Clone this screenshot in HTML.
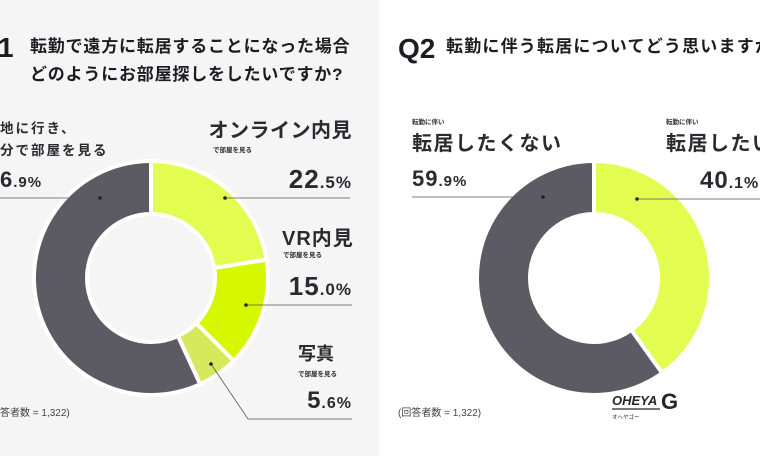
<!DOCTYPE html>
<html><head><meta charset="utf-8"><style>
html,body{margin:0;padding:0;width:760px;height:456px;overflow:hidden;background:#fff}
svg{display:block;font-family:"Liberation Sans","Noto Sans CJK JP",sans-serif}
</style></head><body>
<svg id="c" width="760" height="456" viewBox="0 0 760 456">
<rect x="0" y="0" width="379" height="456" fill="#f5f5f5"/>
<rect x="379" y="0" width="381" height="456" fill="#ffffff"/>
<g fill="#1c1c22" font-weight="bold">
<text x="-2" y="57" font-size="28">1</text>
<text x="30" y="52" font-size="17" letter-spacing="0.8">転勤で遠方に転居することになった場合</text>
<text x="30" y="80" font-size="17" letter-spacing="0.8">どのようにお部屋探しをしたいですか?</text>
<text x="398" y="58" font-size="28">Q2</text>
<text x="446" y="52" font-size="17" letter-spacing="1.2">転勤に伴う転居についてどう思いますか</text>
</g>
<g id="left"></g><g id="right"></g>
<g fill="#2a2a30" font-weight="bold">
<text x="0" y="133" font-size="13.5" letter-spacing="2">地に行き、</text>
<text x="0" y="155" font-size="13.5" letter-spacing="2">分で部屋を見る</text>
<text x="0" y="187" font-size="22" letter-spacing="1">6<tspan font-size="15">.9%</tspan></text>
<text x="352" y="137" font-size="20" text-anchor="end" letter-spacing="0.5">オンライン内見</text>
<text x="213" y="152" font-size="6.5">で部屋を見る</text>
<text x="352" y="188" font-size="26" text-anchor="end" letter-spacing="1">22<tspan font-size="17">.5%</tspan></text>
<text x="282" y="245" font-size="20" letter-spacing="1">VR内見</text>
<text x="283" y="257" font-size="6.5">で部屋を見る</text>
<text x="352" y="295" font-size="26" text-anchor="end" letter-spacing="1">15<tspan font-size="17">.0%</tspan></text>
<text x="298" y="360" font-size="18">写真</text>
<text x="298" y="376" font-size="6.5">で部屋を見る</text>
<text x="352" y="408" font-size="24" text-anchor="end" letter-spacing="1">5<tspan font-size="16">.6%</tspan></text>
<text x="412" y="124" font-size="6.5">転勤に伴い</text>
<text x="412" y="150" font-size="20" letter-spacing="1.5">転居したくない</text>
<text x="412" y="186" font-size="22" letter-spacing="1">59<tspan font-size="15">.9%</tspan></text>
<text x="666" y="124" font-size="6.5">転勤に伴い</text>
<text x="666" y="150" font-size="20" letter-spacing="1.5">転居したい</text>
<text x="700" y="188" font-size="24" letter-spacing="1">40<tspan font-size="16">.1%</tspan></text>
</g>
<g stroke="#555" stroke-width="0.8" fill="none">
<line x1="0" y1="198" x2="100" y2="198"/>
<line x1="225" y1="198" x2="350" y2="198"/>
<line x1="246" y1="305" x2="352" y2="305"/>
<polyline points="211,364 248,419 352,419"/>
<line x1="412" y1="197" x2="543" y2="197"/>
<line x1="637" y1="199" x2="760" y2="199"/>
</g>
<g fill="#222">
<circle cx="100" cy="198" r="1.8"/><circle cx="225" cy="198" r="1.8"/><circle cx="246" cy="305" r="1.8"/><circle cx="211" cy="364" r="1.8"/><circle cx="543" cy="197" r="1.8"/><circle cx="637" cy="199" r="1.8"/>
</g>
<text x="0" y="416" font-size="10" fill="#444">答者数 = 1,322)</text>
<text x="398" y="416" font-size="10" fill="#444">(回答者数 = 1,322)</text>
<g>
<text x="612" y="405" font-size="13" font-weight="bold" font-style="italic" fill="#2a2424">OHEYA</text>
<line x1="612" y1="409" x2="660" y2="409" stroke="#2a2424" stroke-width="1.2"/>
<text x="661" y="409" font-size="22" font-weight="bold" fill="#2a2424">G</text>
<text x="612" y="419" font-size="5.5" fill="#2a2424">オヘヤゴー</text>
</g>
</svg>
<script>
var q1Categories=["オンライン内見","VR内見","写真","現地に行き自分で部屋を見る"];
var q1Values=[22.5,15.0,5.6,56.9];
var q1Colors=["#e2fc50","#d5f700","#d6e85c","#5c5a63"];
var q2Categories=["転居したい","転居したくない"];
var q2Values=[40.1,59.9];
var q2Colors=["#e2fc50","#5c5a63"];
function donut(gid,cx,cy,R,r,vals,cols,cats){
  var g=document.getElementById(gid),tot=vals.reduce(function(a,b){return a+b},0),a0=0;
  function pt(rad,a){return [cx+rad*Math.sin(a),cy-rad*Math.cos(a)];}
  vals.forEach(function(v,i){
    var a1=a0+v/tot*2*Math.PI,lg=(a1-a0)>Math.PI?1:0;
    var p1=pt(R,a0),p2=pt(R,a1),p3=pt(r,a1),p4=pt(r,a0);
    var p=document.createElementNS("http://www.w3.org/2000/svg","path");
    p.setAttribute("d","M"+p1+"A"+R+","+R+" 0 "+lg+" 1 "+p2+"L"+p3+"A"+r+","+r+" 0 "+lg+" 0 "+p4+"Z");
    p.setAttribute("fill",cols[i]);p.setAttribute("stroke","#fff");p.setAttribute("stroke-width","4");
    
    
    p.setAttribute("aria-label",cats[i]);
    g.appendChild(p);a0=a1;
  });
}
donut("left",151,278,117,64,q1Values,q1Colors,q1Categories);
donut("right",594,278,117,64,q2Values,q2Colors,q2Categories);
</script>
</body></html>
